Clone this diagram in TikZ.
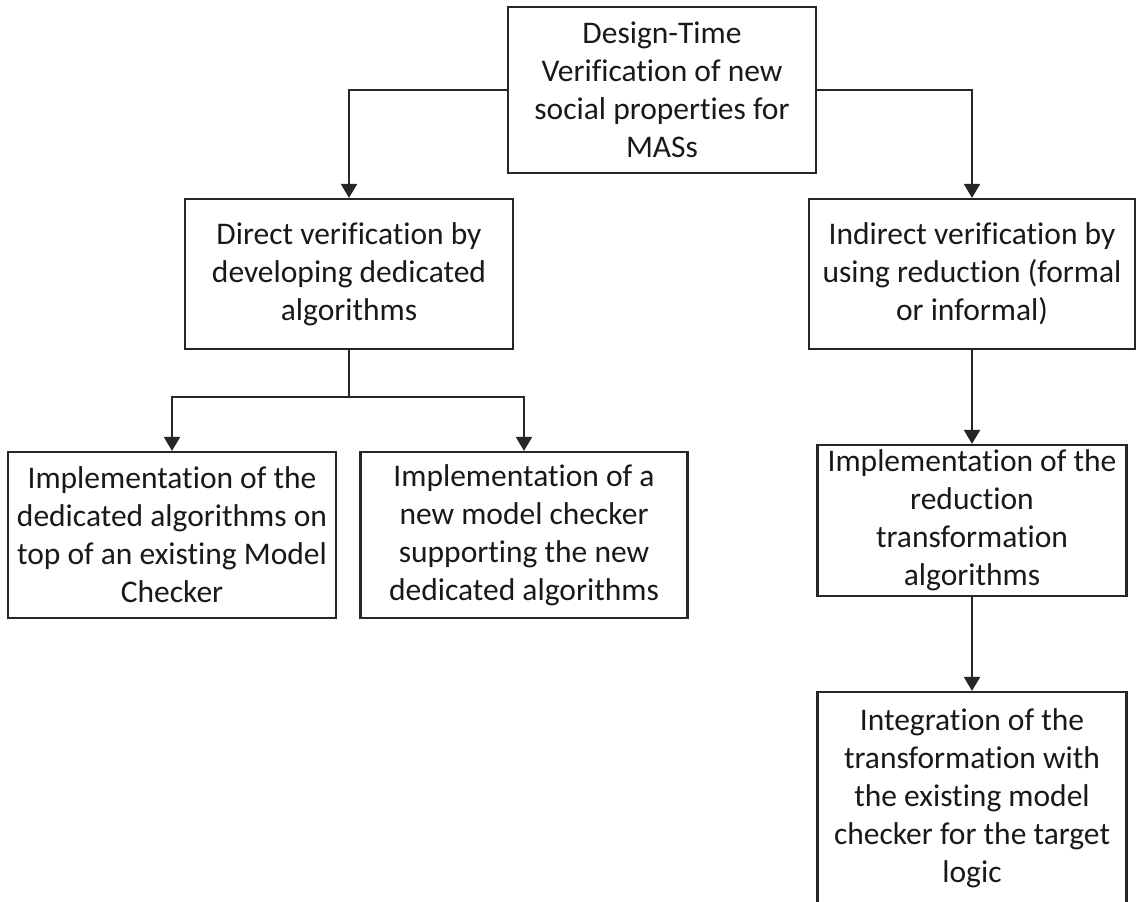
\documentclass[tikz,border=0pt]{standalone}
\usepackage{fontspec}
\setmainfont{Carlito}[Ligatures=NoCommon]
\usetikzlibrary{arrows.meta}
\tikzset{
  box/.style={draw=black!85, line width=2.2pt, align=center, inner sep=0pt,
              text=black!90, font=\fontsize{31.5}{38}\selectfont},
  link/.style={draw=black!85, line width=2.2pt},
  arr/.style={link, -{Triangle[width=16pt,length=14pt]}},
}
\begin{document}
\begin{tikzpicture}[x=1pt,y=-1pt]
\clip (0,0) rectangle (1136,902);

% root
\node[box, minimum width=308pt, minimum height=166pt] (root) at (662,90)
  {Design-Time\\Verification of new\\social properties for\\MASs};

% second level
\node[box, minimum width=328pt, minimum height=150pt] (direct) at (349,274)
  {Direct verification by\\developing dedicated\\algorithms};
\node[box, minimum width=326pt, minimum height=150pt] (indirect) at (972,274)
  {Indirect verification by\\using reduction (formal\\or informal)};

% third level
\node[box, minimum width=328pt, minimum height=166pt] (ontop) at (172,535)
  {Implementation of the\\dedicated algorithms on\\top of an existing Model\\Checker};
\node[box, minimum width=327pt, minimum height=166pt] (newmc) at (524,535)
  {Implementation of a\\new model checker\\supporting the new\\dedicated algorithms};
\node[box, minimum width=309pt, minimum height=151pt] (reduce) at (972,520.5)
  {Implementation of the\\reduction\\transformation\\algorithms};

% fourth level (runs past the lower edge)
\node[box, minimum width=309pt, minimum height=212pt] (integrate) at (972,798)
  {Integration of the\\transformation with\\the existing model\\checker for the target\\logic};

% connectors
\coordinate (split) at (349,397);
\draw[arr] (root.west) -| (direct.north);
\draw[arr] (root.east) -| (indirect.north);
\draw[link] (direct.south) -- (split);
\draw[arr] (split) -| (ontop.north);
\draw[arr] (split) -| (newmc.north);
\draw[arr] (indirect.south) -- (reduce.north);
\draw[arr] (reduce.south) -- (integrate.north);
\end{tikzpicture}
\end{document}
